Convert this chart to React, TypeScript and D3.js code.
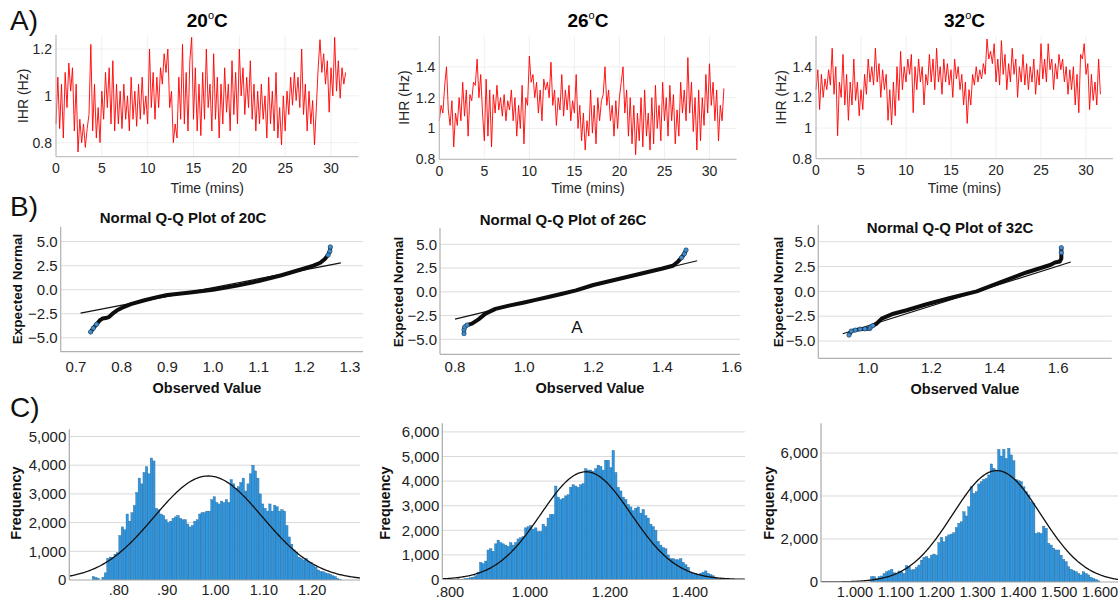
import React from "react";
import * as d3 from "d3";

const FONT = "'Liberation Sans', Arial, Helvetica, sans-serif";

// ---------------- Row A: IHR time series (Hz), sampled every 0.2 min ----------------
const sampleStep = 0.2;
const timeTicks = [0, 5, 10, 15, 20, 25, 30];
const ihrTicks20 = [0.8, 1, 1.2];
const ihrTicks = [0.8, 1, 1.2, 1.4];

const ihr20 = [
  0.88, 1.08, 0.86, 1.05, 0.82, 1.1, 0.95, 1.14, 1.02, 1.12, 0.85, 1.05, 0.76, 0.9, 0.8, 0.88, 0.78, 0.86, 0.92, 1.22,
  0.85, 1.05, 0.82, 0.95, 0.8, 1.02, 0.9, 1.1, 0.95, 1.12, 0.88, 1.15, 0.85, 1.05, 0.88, 1.02, 0.86, 1.05, 0.9, 1.0,
  0.85, 1.08, 0.9, 1.02, 0.87, 1.05, 0.9, 1.08, 0.92, 1.0, 0.88, 1.2, 0.95, 1.1, 0.9, 1.08, 0.95, 1.12, 1.05, 1.18,
  1.1, 1.2, 0.95, 1.02, 0.8, 0.88, 0.82, 1.08, 0.9, 1.22, 0.88, 1.1, 0.85, 1.15, 1.25, 0.9, 1.12, 0.85, 1.05, 0.83,
  1.1, 0.9, 1.2, 0.95, 1.05, 0.85, 1.18, 0.9, 1.08, 0.82, 1.05, 0.88, 1.12, 0.93, 1.05, 0.85, 1.15, 0.92, 1.1, 0.88,
  1.2, 1.0, 1.12, 0.92, 1.08, 0.95, 1.15, 0.9, 1.05, 0.85, 1.02, 0.88, 1.05, 0.9, 1.0, 0.82, 1.08, 0.88, 1.02, 0.85,
  1.1, 0.82, 0.95, 0.79, 1.0, 0.85, 1.02, 0.92, 1.08, 0.96, 1.1, 0.98, 1.08, 0.95, 1.2, 0.92, 1.05, 0.85, 1.02, 0.88,
  0.98, 0.79, 0.95, 1.12, 1.24, 1.1, 1.18, 1.05, 1.15, 0.93, 1.12, 1.0, 1.25, 1.02, 1.15, 0.99, 1.12, 1.05, 1.1,
];
const ihr26 = [
  1.05, 1.15, 1.1, 1.28, 1.4, 1.12, 1.02, 1.18, 0.88, 1.1, 1.02, 1.2, 1.05, 1.3, 1.08, 1.25, 0.95, 1.22, 1.18, 1.3,
  1.28, 1.45, 1.2, 1.35, 1.1, 0.92, 1.32, 0.95, 1.25, 0.88, 1.22, 1.1, 1.28, 1.12, 1.2, 1.08, 1.22, 1.05, 1.18, 1.12,
  1.25, 1.05, 1.2, 0.95, 1.15, 1.0, 1.28, 0.9, 1.2, 1.15, 1.47, 1.3, 1.35, 1.2, 1.3, 1.1, 1.25, 1.05, 1.32, 1.25,
  1.3, 1.2, 1.43, 1.15, 1.25, 1.02, 1.2, 1.12, 1.35, 1.08, 1.25, 1.12, 1.28, 1.05, 1.18, 1.1, 1.35, 1.0, 1.15, 0.92,
  1.1, 0.86, 1.05, 0.95, 1.25, 0.97, 1.15, 0.9, 1.2, 1.05, 1.18, 1.22, 1.4, 1.15, 1.25, 1.05, 1.15, 0.95, 1.18, 1.0,
  1.2, 1.3, 1.4, 1.1, 1.25, 0.95, 1.2, 0.9, 1.15, 0.83, 1.1, 0.92, 1.2, 0.88, 1.25, 0.95, 1.1, 0.86, 1.2, 0.9,
  1.28, 1.0, 1.15, 0.92, 1.3, 1.05, 1.2, 0.95, 1.28, 1.05, 1.22, 0.9, 1.12, 0.95, 1.3, 1.1, 1.25, 1.05, 1.46, 1.1,
  1.3, 0.98, 1.2, 0.86, 1.25, 0.92, 1.2, 1.02, 1.35, 1.1, 1.42, 1.15, 1.3, 1.05, 1.25, 0.92, 1.15, 1.05, 1.26,
];
const ihr32 = [
  1.25, 1.38, 1.12, 1.35, 1.2, 1.32, 1.25, 1.38, 1.28, 1.52, 1.22, 1.4, 0.95, 1.3, 1.2, 1.48, 1.15, 1.35, 1.05, 1.3,
  1.15, 1.45, 1.18, 1.3, 1.08, 1.25, 1.12, 1.35, 1.22, 1.45, 1.3, 1.4, 1.28, 1.52, 1.3, 1.42, 1.2, 1.38, 1.25, 1.35,
  1.05, 1.25, 1.02, 1.3, 1.08, 1.4, 1.18, 1.5, 1.25, 1.4, 1.3, 1.45, 1.35, 1.48, 1.1, 1.4, 1.25, 1.45, 1.3, 1.4,
  1.15, 1.35, 1.28, 1.48, 1.3, 1.45, 1.25, 1.52, 1.3, 1.4, 1.22, 1.45, 1.3, 1.42, 1.28, 1.38, 1.2, 1.45, 1.32, 1.4,
  1.25, 1.35, 1.15, 1.3, 1.03, 1.25, 1.15, 1.35, 1.28, 1.4, 1.3, 1.38, 1.32, 1.42, 1.35, 1.58, 1.45, 1.5, 1.42, 1.55,
  1.3, 1.45, 1.28, 1.57, 1.35, 1.48, 1.25, 1.42, 1.3, 1.52, 1.35, 1.45, 1.2, 1.4, 1.3, 1.48, 1.28, 1.42, 1.25, 1.4,
  1.3, 1.45, 1.22, 1.38, 1.28, 1.55, 1.32, 1.45, 1.3, 1.55, 1.38, 1.45, 1.25, 1.42, 1.32, 1.48, 1.38, 1.45, 1.3, 1.4,
  1.22, 1.38, 1.25, 1.4, 1.15, 1.35, 1.1, 1.48, 1.45, 1.55, 1.35, 1.42, 1.12, 1.35, 1.18, 1.3, 1.15, 1.45, 1.22,
];

// ---------------- Row B: Normal Q-Q plots ----------------
const qqYTicks = [-5, -2.5, 0, 2.5, 5];
const qqXTicks20 = [0.7, 0.8, 0.9, 1.0, 1.1, 1.2, 1.3];
const qqXTicks26 = [0.8, 1.0, 1.2, 1.4, 1.6];
const qqXTicks32 = [1.0, 1.2, 1.4, 1.6];

const qqObs20 = [0.732, 0.738, 0.745, 0.752, 0.758, 0.765, 0.772, 0.78, 0.79, 0.8, 0.82, 0.85, 0.88, 0.9, 0.95, 1.0, 1.05, 1.1, 1.15, 1.2, 1.22, 1.235, 1.245, 1.252, 1.256, 1.257];
const qqExp20 = [-4.4, -4.0, -3.6, -3.2, -3.0, -2.95, -2.85, -2.5, -2.15, -1.9, -1.5, -1.1, -0.75, -0.55, -0.3, 0.0, 0.4, 0.9, 1.5, 2.2, 2.5, 2.8, 3.2, 3.6, 4.0, 4.45];
const qqFitX20 = [0.71, 1.28];
const qqFitY20 = [-2.43, 2.78];

const qqObs26 = [0.826, 0.826, 0.828, 0.835, 0.849, 0.868, 0.888, 0.917, 0.956, 1.0, 1.033, 1.07, 1.11, 1.15, 1.2, 1.3, 1.4, 1.43, 1.445, 1.455, 1.463, 1.468];
const qqExp26 = [-4.4, -4.0, -3.7, -3.5, -3.35, -2.9, -2.3, -1.8, -1.45, -1.12, -0.85, -0.55, -0.2, 0.15, 0.72, 1.58, 2.45, 2.75, 3.2, 3.6, 4.0, 4.4];
const qqFitX26 = [0.8, 1.5];
const qqFitY26 = [-2.87, 3.27];

const qqObs32 = [0.94, 0.947, 0.96, 0.975, 0.99, 1.005, 1.008, 1.015, 1.027, 1.043, 1.08, 1.122, 1.185, 1.259, 1.343, 1.417, 1.5, 1.575, 1.59, 1.605, 1.61, 1.61, 1.61];
const qqExp32 = [-4.4, -4.0, -3.9, -3.8, -3.78, -3.75, -3.6, -3.45, -3.25, -2.75, -2.25, -1.9, -1.3, -0.67, 0.0, 0.9, 1.9, 2.65, 2.9, 3.0, 3.3, 3.9, 4.4];
const qqFitX32 = [0.92, 1.64];
const qqFitY32 = [-4.27, 2.95];

// ---------------- Row C: histograms ----------------
const histStart20 = 0.745;
const histWidth20 = 0.005;
const histCounts20 = [
  120, 90, 60, 0, 100, 250, 750, 800, 780, 900, 950, 1550, 1850, 1750, 2300, 2050, 2350, 2600, 3050, 3550,
  3350, 3750, 3950, 3700, 4250, 4150, 2500, 2450, 2300, 2250, 2100, 2000, 2050, 2150, 2200, 2250, 2150, 2100, 2100, 1950,
  1850, 1900, 2050, 2100, 2300, 2350, 2350, 2400, 2400, 2800, 2900, 2700, 2650, 2750, 2700, 2800, 2700, 3500, 3350, 3200,
  3250, 3400, 3550, 3100, 3350, 3700, 4000, 3800, 3550, 3000, 2650, 2500, 2400, 2650, 2400, 2600, 2550, 2400, 2450, 2400,
  1900, 1500, 1250, 1050, 950, 800, 750, 700, 750, 650, 600, 520, 450, 350, 300, 290, 250, 230, 200, 150,
  120, 60, 20,
];
const histXTicks20 = [0.8, 0.9, 1.0, 1.1, 1.2];
const histYTicks20 = [0, 1000, 2000, 3000, 4000, 5000];
const normMean20 = 0.985;
const normSd20 = 0.112;
const normPeak20 = 3624;

const histStart26 = 0.8175;
const histWidth26 = 0.00625;
const histCounts26 = [
  30, 0, 20, 40, 50, 80, 100, 150, 300, 700, 650, 750, 1200, 1250, 1150, 1450, 1600, 1500, 1450, 1400,
  1350, 1500, 1400, 1500, 1650, 1700, 1750, 2100, 2150, 2200, 2050, 2100, 1950, 1950, 2250, 2150, 2500, 2650, 2650, 3800,
  3350, 3250, 3300, 3400, 3450, 3750, 3850, 3800, 3750, 3850, 3900, 4500, 4450, 4450, 4400, 4500, 4650, 4600, 4450, 4850,
  4850, 4550, 5250, 4350, 3750, 3600, 3350, 3250, 3050, 2950, 2800, 2900, 2950, 2700, 2850, 2600, 2500, 2250, 2150, 2000,
  1550, 1400, 1300, 1250, 1000, 850, 850, 800, 800, 850, 700, 600, 500, 300, 250, 250, 200, 250, 300, 350,
  250, 200, 150, 80, 30,
];
const histXTicks26 = [0.8, 1.0, 1.2, 1.4];
const histYTicks26 = [0, 1000, 2000, 3000, 4000, 5000, 6000];
const normMean26 = 1.14;
const normSd26 = 0.113;
const normPeak26 = 4380;

const histStart32 = 1.038;
const histWidth32 = 0.0061;
const histCounts32 = [
  250, 250, 170, 250, 280, 400, 480, 530, 590, 430, 370, 510, 465, 400, 760, 710, 560, 590, 680, 790,
  1020, 1150, 1180, 1100, 1250, 1300, 1250, 1830, 2080, 1880, 2110, 2190, 2230, 2290, 2540, 2730, 2800, 3270, 3070, 3500,
  4430, 4120, 4200, 4560, 4670, 4770, 4820, 4980, 5490, 5290, 5210, 6170, 5860, 6170, 5750, 6220, 5910, 5640, 4770, 4710,
  4670, 4430, 4200, 4050, 3740, 3660, 2260, 2290, 2260, 2600, 2500, 1800, 1720, 1570, 1490, 1490, 1250, 1050, 950, 710,
  590, 530, 480, 400, 330, 480, 400, 330, 220, 170, 120, 60,
];
const histXTicks32 = [1.0, 1.1, 1.2, 1.3, 1.4, 1.5, 1.6];
const histYTicks32 = [0, 2000, 4000, 6000];
const normMean32 = 1.347;
const normSd32 = 0.108;
const normPeak32 = 5180;

// ---------------- components ----------------
type Frame = { l: number; r: number; t: number; b: number };

function TracePanel(p: {
  values: number[]; f: Frame; yDomain: [number, number]; yTicks: number[]; title: string;
  ylabX: number;
}) {
  const { f } = p;
  const x = d3.scaleLinear().domain([0, 33]).range([f.l, f.r]);
  const y = d3.scaleLinear().domain(p.yDomain).range([f.b, f.t]);
  const line = d3.line<number>().x((_, i) => x(i * sampleStep)).y((d) => y(d));
  const cx = (f.l + f.r) / 2;
  return (
    <g>
      {timeTicks.map((t) => (
        <line key={"gx" + t} x1={x(t)} x2={x(t)} y1={f.t} y2={f.b} stroke="#ececec" strokeWidth={0.8} />
      ))}
      {p.yTicks.map((t) => (
        <line key={"gy" + t} x1={f.l} x2={f.r} y1={y(t)} y2={y(t)} stroke="#ececec" strokeWidth={0.8} />
      ))}
      <path d={line(p.values) || ""} fill="none" stroke="#ff0000" strokeWidth={0.9} strokeLinejoin="round" />
      <line x1={f.l} x2={f.l} y1={f.t} y2={f.b} stroke="#b4b4b4" strokeWidth={1} />
      <line x1={f.l} x2={f.r} y1={f.b} y2={f.b} stroke="#b4b4b4" strokeWidth={1} />
      {timeTicks.map((t) => (
        <text key={"tx" + t} x={x(t)} y={f.b + 16.5} textAnchor="middle" fontSize={14} fill="#262626" fontFamily={FONT}>
          {t}
        </text>
      ))}
      {p.yTicks.map((t) => (
        <text key={"ty" + t} x={f.l - 4} y={y(t)} dy="0.35em" textAnchor="end" fontSize={14} fill="#262626" fontFamily={FONT}>
          {String(t)}
        </text>
      ))}
      <text x={cx} y={193} textAnchor="middle" fontSize={14} fill="#262626" fontFamily={FONT}>Time (mins)</text>
      <text transform={`translate(${p.ylabX},${(f.t + f.b) / 2}) rotate(-90)`} textAnchor="middle" dy="0.35em"
        fontSize={14} fill="#262626" fontFamily={FONT}>IHR (Hz)</text>
      <text x={cx} y={27} textAnchor="middle" fontSize={19} fontWeight="bold" fill="#000" fontFamily={FONT}>
        {p.title}
        <tspan dy={-8} fontSize={11} fontWeight="normal">o</tspan>
        <tspan dy={8}>C</tspan>
      </text>
    </g>
  );
}

function QQPanel(p: {
  obs: number[]; exp: number[]; fitX: number[]; fitY: number[]; f: Frame;
  xDomain: [number, number]; yDomain: [number, number]; xTicks: number[];
  title: string; titleX: number; titleY: number; xlabX: number; xlabY: number; ylabX: number; ylabY: number;
  tickY: number;
}) {
  const { f } = p;
  const x = d3.scaleLinear().domain(p.xDomain).range([f.l, f.r]);
  const y = d3.scaleLinear().domain(p.yDomain).range([f.b, f.t]);
  const pts = p.obs.map((o, i) => [o, p.exp[i]] as [number, number]);
  const line = d3.line<[number, number]>().x((d) => x(d[0])).y((d) => y(d[1]));
  const smooth = d3.line<[number, number]>().x((d) => x(d[0])).y((d) => y(d[1])).curve(d3.curveMonotoneX);
  const fit = p.fitX.map((v, i) => [v, p.fitY[i]] as [number, number]);
  const extreme = pts.filter((d) => Math.abs(d[1]) >= 3.4);
  return (
    <g>
      {qqYTicks.map((t) => (
        <line key={"g" + t} x1={f.l} x2={f.r} y1={y(t)} y2={y(t)} stroke="#dcdcdc" strokeWidth={1} />
      ))}
      <line x1={f.l} x2={f.l} y1={f.t} y2={f.b} stroke="#b0b0b0" strokeWidth={1.2} />
      <line x1={f.l} x2={f.r} y1={f.b} y2={f.b} stroke="#b0b0b0" strokeWidth={1.2} />
      <path d={line(fit) || ""} fill="none" stroke="#111" strokeWidth={1.2} />
      <path d={line(pts) || ""} fill="none" stroke="#0d0d0d" strokeWidth={4} strokeLinejoin="round" strokeLinecap="round" />
      {extreme.map((d, i) => (
        <circle key={"c" + i} cx={x(d[0])} cy={y(d[1])} r={2.2} fill="#3f8fd2" stroke="#1d3f5e" strokeWidth={0.6} />
      ))}
      {qqYTicks.map((t) => (
        <text key={"ty" + t} x={f.l - 3} y={y(t)} dy="0.35em" textAnchor="end" fontSize={15} fill="#222" fontFamily={FONT}>
          {d3.format(".1f")(t)}
        </text>
      ))}
      {p.xTicks.map((t) => (
        <text key={"tx" + t} x={x(t)} y={p.tickY} textAnchor="middle" fontSize={15} fill="#222" fontFamily={FONT}>
          {d3.format(".1f")(t)}
        </text>
      ))}
      <text x={p.titleX} y={p.titleY} textAnchor="middle" fontSize={15} fontWeight="bold" fill="#111" fontFamily={FONT}>{p.title}</text>
      <text x={p.xlabX} y={p.xlabY} textAnchor="middle" fontSize={14.5} fontWeight="bold" fill="#111" fontFamily={FONT}>Observed Value</text>
      <text transform={`translate(${p.ylabX},${p.ylabY}) rotate(-90)`} textAnchor="middle" dy="0.35em" fontSize={13.5}
        fontWeight="bold" fill="#111" fontFamily={FONT}>Expected Normal</text>
    </g>
  );
}

function HistPanel(p: {
  start: number; width: number; counts: number[]; f: Frame; xDomain: [number, number]; yDomain: [number, number];
  xTicks: number[]; yTicks: number[]; decimals: number; mean: number; sd: number; peak: number;
  tickY: number; ylabX: number; clipId: string;
}) {
  const { f } = p;
  const x = d3.scaleLinear().domain(p.xDomain).range([f.l, f.r]);
  const y = d3.scaleLinear().domain(p.yDomain).range([f.b, f.t]);
  const curveX = d3.range(p.xDomain[0], p.xDomain[1] + 1e-9, (p.xDomain[1] - p.xDomain[0]) / 300);
  const curve = d3.line<number>().x((v) => x(v)).y((v) => y(p.peak * Math.exp(-0.5 * ((v - p.mean) / p.sd) ** 2)));
  const fmtX = (v: number) => {
    const s = d3.format(`.${p.decimals}f`)(v);
    return s.startsWith("0.") ? s.slice(1) : s;
  };
  return (
    <g>
      <clipPath id={p.clipId}>
        <rect x={f.l} y={f.t} width={f.r - f.l} height={f.b - f.t} />
      </clipPath>
      {p.yTicks.filter((t) => t > 0).map((t) => (
        <line key={"g" + t} x1={f.l} x2={f.r} y1={y(t)} y2={y(t)} stroke="#d9d9d9" strokeWidth={1} />
      ))}
      <g clipPath={`url(#${p.clipId})`}>
        {p.counts.map((c, i) => {
          const x0 = p.start + i * p.width;
          const px0 = x(x0);
          const px1 = x(x0 + p.width);
          return c > 0 ? (
            <rect key={i} x={px0} y={y(c)} width={px1 - px0} height={f.b - y(c)} fill="#2f97e0" stroke="#2c628f" strokeWidth={0.35} />
          ) : null;
        })}
        <path d={curve(curveX) || ""} fill="none" stroke="#111" strokeWidth={1.3} />
      </g>
      <line x1={f.l} x2={f.l} y1={f.t} y2={f.b} stroke="#a8a8a8" strokeWidth={1.2} />
      <line x1={f.l} x2={f.r} y1={f.b} y2={f.b} stroke="#a8a8a8" strokeWidth={1.2} />
      {p.yTicks.map((t) => (
        <text key={"ty" + t} x={f.l - 3} y={y(t)} dy="0.35em" textAnchor="end" fontSize={15} fill="#222" fontFamily={FONT}>
          {d3.format(",")(t)}
        </text>
      ))}
      {p.xTicks.map((t) => (
        <text key={"tx" + t} x={x(t)} y={p.tickY} textAnchor="middle" fontSize={14.5} fill="#222" fontFamily={FONT}>
          {fmtX(t)}
        </text>
      ))}
      <text transform={`translate(${p.ylabX},503) rotate(-90)`} textAnchor="middle" dy="0.35em" fontSize={14.5}
        fontWeight="bold" fill="#111" fontFamily={FONT}>Frequency</text>
    </g>
  );
}

export default function App() {
  return (
    <div style={{ position: "absolute", left: 0, top: 0 }}>
      <svg width={1118} height={603} style={{ display: "block", background: "#fff" }}>
        <text x={10} y={30} fontSize={28} fill="#111" fontFamily={FONT}>A)</text>
        <text x={10} y={216} fontSize={28} fill="#111" fontFamily={FONT}>B)</text>
        <text x={10} y={417} fontSize={28} fill="#111" fontFamily={FONT}>C)</text>

        <TracePanel values={ihr20} f={{ l: 56, r: 358.5, t: 35, b: 156.7 }} yDomain={[0.74, 1.26]} yTicks={ihrTicks20} title="20" ylabX={23} />
        <TracePanel values={ihr26} f={{ l: 439.3, r: 736.5, t: 36, b: 159.3 }} yDomain={[0.8, 1.6]} yTicks={ihrTicks} title="26" ylabX={404} />
        <TracePanel values={ihr32} f={{ l: 816, r: 1113, t: 36, b: 158.7 }} yDomain={[0.8, 1.6]} yTicks={ihrTicks} title="32" ylabX={781} />

        <QQPanel obs={qqObs20} exp={qqExp20} fitX={qqFitX20} fitY={qqFitY20} f={{ l: 60.7, r: 363, t: 226.7, b: 351.7 }}
          xDomain={[0.6665, 1.3285]} yDomain={[-6.45, 6.55]} xTicks={qqXTicks20} title="Normal Q-Q Plot of 20C"
          titleX={183} titleY={223} xlabX={207} xlabY={393} ylabX={17} ylabY={289} tickY={371.5} />
        <QQPanel obs={qqObs26} exp={qqExp26} fitX={qqFitX26} fitY={qqFitY26} f={{ l: 440, r: 740, t: 228, b: 354.3 }}
          xDomain={[0.7566, 1.624]} yDomain={[-6.58, 6.72]} xTicks={qqXTicks26} title="Normal Q-Q Plot of 26C"
          titleX={563} titleY={225} xlabX={590} xlabY={393} ylabX={398} ylabY={292} tickY={371.5} />
        <text x={577} y={333} textAnchor="middle" fontSize={17} fill="#111" fontFamily={FONT}>A</text>
        <QQPanel obs={qqObs32} exp={qqExp32} fitX={qqFitX32} fitY={qqFitY32} f={{ l: 818.3, r: 1111.7, t: 225, b: 358.3 }}
          xDomain={[0.843, 1.769]} yDomain={[-6.74, 6.68]} xTicks={qqXTicks32} title="Normal Q-Q Plot of 32C"
          titleX={950} titleY={233} xlabX={965} xlabY={394} ylabX={778} ylabY={292} tickY={373} />

        <HistPanel start={histStart20} width={histWidth20} counts={histCounts20} f={{ l: 69.3, r: 360, t: 429.3, b: 580 }}
          xDomain={[0.6977, 1.2988]} yDomain={[0, 5251]} xTicks={histXTicks20} yTicks={histYTicks20} decimals={2}
          mean={normMean20} sd={normSd20} peak={normPeak20} tickY={595} ylabX={16} clipId="c20" />
        <HistPanel start={histStart26} width={histWidth26} counts={histCounts26} f={{ l: 442.3, r: 745, t: 423.3, b: 579.5 }}
          xDomain={[0.7808, 1.5375]} yDomain={[0, 6350]} xTicks={histXTicks26} yTicks={histYTicks26} decimals={3}
          mean={normMean26} sd={normSd26} peak={normPeak26} tickY={597} ylabX={385} clipId="c26" />
        <HistPanel start={histStart32} width={histWidth32} counts={histCounts32} f={{ l: 821, r: 1118, t: 423.3, b: 582 }}
          xDomain={[0.9167, 1.644]} yDomain={[0, 7381]} xTicks={histXTicks32} yTicks={histYTicks32} decimals={3}
          mean={normMean32} sd={normSd32} peak={normPeak32} tickY={597} ylabX={769} clipId="c32" />
      </svg>
    </div>
  );
}
